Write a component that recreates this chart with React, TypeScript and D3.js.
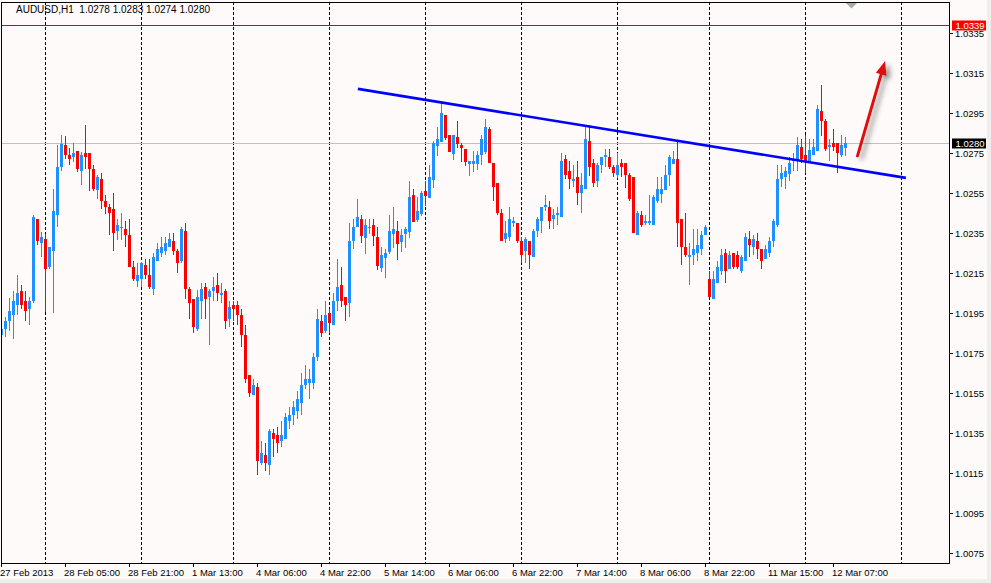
import React, { useEffect, useRef } from 'react';
import * as d3 from 'd3';

const symbol = 'AUDUSD';
const timeframe = 'H1';

const opens = [
  1.01844, 1.01875, 1.01915, 1.01944, 1.01995, 1.02059, 1.02009, 1.01975, 1.02014, 1.02419,
  1.02305, 1.02319, 1.02185, 1.02265, 1.02445, 1.02685, 1.02789, 1.02739, 1.02735, 1.02759,
  1.02665, 1.02749, 1.02749, 1.02669, 1.02569, 1.02619, 1.02509, 1.02479, 1.02469, 1.02365,
  1.02377, 1.02369, 1.02339, 1.02179, 1.02115, 1.02125, 1.02189, 1.02139, 1.02075, 1.02215,
  1.02255, 1.02265, 1.02285, 1.02309, 1.02259, 1.02215, 1.02359, 1.02069, 1.02019, 1.01875,
  1.02015, 1.02079, 1.02035, 1.02065, 1.02089, 1.02045, 1.02059, 1.01925, 1.01989, 1.01989,
  1.01939, 1.01839, 1.01639, 1.01545, 1.01579, 1.01205, 1.01239, 1.01195, 1.01349, 1.01339,
  1.01315, 1.01325, 1.01415, 1.01445, 1.01465, 1.01505, 1.01595, 1.01605, 1.01605, 1.01735,
  1.01909, 1.01865, 1.01949, 1.01895, 1.02015, 1.02089, 1.02029, 1.02005, 1.02315, 1.02385,
  1.02417, 1.02327, 1.02377, 1.02387, 1.02327, 1.02177, 1.02227, 1.02257, 1.02347, 1.02357,
  1.02307, 1.02347, 1.02357, 1.02537, 1.02417, 1.02447, 1.02557, 1.02527, 1.02617, 1.02787,
  1.02807, 1.02937, 1.02837, 1.02747, 1.02827, 1.02787, 1.02767, 1.02697, 1.02697, 1.02697,
  1.02745, 1.02759, 1.02869, 1.02699, 1.02599, 1.02449, 1.02325, 1.02335, 1.02405, 1.02399,
  1.02309, 1.02265, 1.02309, 1.02235, 1.02365, 1.02415, 1.02485, 1.02479, 1.02425, 1.02445,
  1.02435, 1.02719, 1.02659, 1.02615, 1.02629, 1.02555, 1.02575, 1.02809, 1.02699, 1.02615,
  1.02695, 1.02735, 1.02729, 1.02679, 1.02645, 1.02699, 1.02699, 1.02639, 1.02629, 1.02345,
  1.02439, 1.02405, 1.02405, 1.02395, 1.02515, 1.02549, 1.02569, 1.02645, 1.02699, 1.02719,
  1.02419, 1.02279, 1.02235, 1.02245, 1.02255, 1.02275, 1.02345, 1.02119, 1.02025, 1.02102,
  1.02165, 1.02249, 1.02175, 1.02249, 1.02239, 1.02165, 1.02215, 1.02319, 1.02285, 1.02309,
  1.02269, 1.02225, 1.02255, 1.02315, 1.02395, 1.02625, 1.02635, 1.02649, 1.02715, 1.02715,
  1.02779, 1.02739, 1.02715, 1.02745, 1.02765, 1.02959, 1.02909, 1.02785, 1.02799, 1.02799,
  1.02745, 1.0278,
];

const highs = [
  1.01967, 1.0193, 1.02022, 1.02059, 1.02139, 1.02087, 1.02059, 1.0203, 1.02439, 1.02419,
  1.02355, 1.02342, 1.02279, 1.02569, 1.02789, 1.02839, 1.02835, 1.02772, 1.02799, 1.02759,
  1.02755, 1.02889, 1.02749, 1.02689, 1.02639, 1.02649, 1.02539, 1.02495, 1.02549, 1.02419,
  1.0245, 1.02409, 1.02419, 1.02209, 1.02199, 1.02205, 1.02219, 1.02219, 1.02249, 1.02299,
  1.02329, 1.02329, 1.02349, 1.02349, 1.02269, 1.02379, 1.02399, 1.02079, 1.02019, 1.02062,
  1.02099, 1.02099, 1.02069, 1.02129, 1.02149, 1.02099, 1.02069, 1.02009, 1.02009, 1.02009,
  1.01969, 1.01889, 1.01639, 1.01619, 1.01599, 1.01309, 1.01299, 1.01369, 1.01369, 1.01379,
  1.01409, 1.01449, 1.01479, 1.01509, 1.01559, 1.01649, 1.01689, 1.01669, 1.01749, 1.01969,
  1.01939, 1.02009, 1.01969, 1.02049, 1.02219, 1.02179, 1.02029, 1.02399, 1.02419, 1.02519,
  1.02437, 1.02417, 1.02417, 1.02417, 1.02377, 1.02277, 1.02267, 1.02437, 1.02477, 1.02407,
  1.02367, 1.02377, 1.02607, 1.02567, 1.02527, 1.02557, 1.02607, 1.02687, 1.02807, 1.02877,
  1.02997, 1.02937, 1.02837, 1.02837, 1.02907, 1.02797, 1.02767, 1.02707, 1.02757, 1.02757,
  1.02839, 1.02919, 1.02879, 1.02699, 1.02599, 1.02469, 1.02409, 1.02479, 1.02429, 1.02399,
  1.02329, 1.02329, 1.02309, 1.02369, 1.02429, 1.02479, 1.02539, 1.02509, 1.02469, 1.02479,
  1.02749, 1.02739, 1.02709, 1.02689, 1.02709, 1.02649, 1.02889, 1.02889, 1.02719, 1.02699,
  1.02729, 1.02769, 1.02769, 1.02689, 1.02749, 1.02719, 1.02699, 1.02649, 1.02629, 1.02459,
  1.02459, 1.02439, 1.02539, 1.02539, 1.02629, 1.02629, 1.02689, 1.02739, 1.02759, 1.02809,
  1.02419, 1.02449, 1.02299, 1.02369, 1.02369, 1.02359, 1.02389, 1.02159, 1.02159, 1.02209,
  1.02269, 1.02269, 1.02259, 1.02249, 1.02259, 1.02239, 1.02349, 1.02359, 1.02339, 1.02349,
  1.02269, 1.02289, 1.02329, 1.02419, 1.02689, 1.02689, 1.02679, 1.02729, 1.02749, 1.02829,
  1.02819, 1.02839, 1.02819, 1.02819, 1.02989, 1.03089, 1.02919, 1.02819, 1.02869, 1.02799,
  1.02839, 1.0283,
];

const lows = [
  1.01817, 1.01835, 1.01864, 1.01825, 1.01942, 1.01972, 1.01915, 1.01895, 1.02005, 1.02295,
  1.02235, 1.01959, 1.02172, 1.01955, 1.02385, 1.02665, 1.02722, 1.02695, 1.02709, 1.02659,
  1.02595, 1.02675, 1.02565, 1.02562, 1.02525, 1.02475, 1.02449, 1.02345, 1.02265, 1.02319,
  1.02317, 1.02284, 1.02185, 1.02115, 1.02085, 1.02082, 1.02122, 1.02075, 1.02045, 1.02215,
  1.02235, 1.02245, 1.02285, 1.02245, 1.02155, 1.02205, 1.02025, 1.01925, 1.01855, 1.01865,
  1.01925, 1.01925, 1.01795, 1.02015, 1.02015, 1.02005, 1.01875, 1.01885, 1.01915, 1.01895,
  1.01785, 1.01605, 1.01535, 1.01545, 1.01145, 1.01195, 1.01165, 1.01142, 1.01235, 1.01255,
  1.01285, 1.01325, 1.01375, 1.01395, 1.01425, 1.01445, 1.01575, 1.01525, 1.01575, 1.01715,
  1.01835, 1.01855, 1.01855, 1.01895, 1.01965, 1.01985, 1.01915, 1.01935, 1.02275, 1.02385,
  1.02304, 1.02247, 1.02347, 1.02287, 1.02167, 1.02157, 1.02127, 1.02247, 1.02277, 1.02217,
  1.02257, 1.02277, 1.02327, 1.02407, 1.02407, 1.02437, 1.02487, 1.02527, 1.02577, 1.02737,
  1.02807, 1.02817, 1.02757, 1.02717, 1.02777, 1.02707, 1.02687, 1.02637, 1.02657, 1.02667,
  1.02695, 1.02749, 1.02705, 1.02515, 1.02445, 1.02315, 1.02305, 1.02315, 1.02385, 1.02305,
  1.02205, 1.02205, 1.02175, 1.02235, 1.02335, 1.02355, 1.02465, 1.02375, 1.02375, 1.02395,
  1.02435, 1.02625, 1.02575, 1.02585, 1.02495, 1.02455, 1.02575, 1.02639, 1.02585, 1.02585,
  1.02655, 1.02685, 1.02675, 1.02635, 1.02629, 1.02635, 1.02579, 1.02515, 1.02355, 1.02345,
  1.02385, 1.02395, 1.02395, 1.02395, 1.02505, 1.02505, 1.02569, 1.02589, 1.02699, 1.02282,
  1.02195, 1.02235, 1.02095, 1.02195, 1.02215, 1.02245, 1.02345, 1.02035, 1.02025, 1.02102,
  1.02145, 1.02105, 1.02175, 1.02175, 1.02175, 1.02155, 1.02215, 1.02235, 1.02245, 1.02225,
  1.02175, 1.02225, 1.02235, 1.02285, 1.02385, 1.02585, 1.02575, 1.02615, 1.02665, 1.02665,
  1.02705, 1.02655, 1.02705, 1.02745, 1.02765, 1.02839, 1.02765, 1.02715, 1.02765, 1.02655,
  1.02735, 1.0274,
];

const closes = [
  1.01867, 1.01909, 1.01959, 1.02009, 1.02047, 1.01995, 1.01965, 1.02009, 1.02429, 1.02315,
  1.02329, 1.02175, 1.02279, 1.02459, 1.02679, 1.02795, 1.02745, 1.02725, 1.02749, 1.02675,
  1.02739, 1.02735, 1.02675, 1.02575, 1.02629, 1.02515, 1.02485, 1.02455, 1.02355, 1.02389,
  1.0238, 1.02344, 1.02185, 1.02125, 1.02139, 1.02199, 1.02145, 1.02085, 1.02229, 1.02269,
  1.02279, 1.02299, 1.02319, 1.02265, 1.02205, 1.02369, 1.02075, 1.02005, 1.01885, 1.02029,
  1.02069, 1.02025, 1.02059, 1.02079, 1.02055, 1.02049, 1.01915, 1.01979, 1.01975, 1.01945,
  1.01845, 1.01625, 1.01555, 1.01589, 1.01215, 1.01249, 1.01205, 1.01359, 1.01325, 1.01305,
  1.01339, 1.01429, 1.01439, 1.01479, 1.01519, 1.01589, 1.01619, 1.01619, 1.01729, 1.01919,
  1.01855, 1.01939, 1.01905, 1.02009, 1.02079, 1.02015, 1.01995, 1.02309, 1.02379, 1.02429,
  1.02337, 1.02387, 1.0238, 1.02337, 1.02187, 1.02237, 1.02247, 1.02357, 1.02367, 1.02297,
  1.02337, 1.02367, 1.02527, 1.02407, 1.02457, 1.02547, 1.02537, 1.02627, 1.02797, 1.02817,
  1.02947, 1.02827, 1.02757, 1.02837, 1.02797, 1.02777, 1.02707, 1.02707, 1.02707, 1.02737,
  1.02819, 1.02879, 1.02705, 1.02585, 1.02455, 1.02315, 1.02349, 1.02419, 1.02409, 1.02315,
  1.02245, 1.02319, 1.02245, 1.02359, 1.02419, 1.02479, 1.02489, 1.02415, 1.02439, 1.02449,
  1.02709, 1.02645, 1.02625, 1.02619, 1.02555, 1.02589, 1.02819, 1.02685, 1.02605, 1.02689,
  1.02729, 1.02739, 1.02685, 1.02655, 1.02689, 1.02685, 1.02645, 1.02525, 1.02355, 1.02449,
  1.02395, 1.02409, 1.02409, 1.02529, 1.02569, 1.02569, 1.02639, 1.02729, 1.02719, 1.02405,
  1.02285, 1.02245, 1.02239, 1.02269, 1.02289, 1.02339, 1.02379, 1.02035, 1.02119, 1.02179,
  1.02239, 1.02165, 1.02239, 1.02185, 1.02185, 1.02229, 1.02329, 1.02295, 1.02319, 1.02275,
  1.02215, 1.02269, 1.02309, 1.02409, 1.02619, 1.02649, 1.02659, 1.02699, 1.02719, 1.02789,
  1.02725, 1.02715, 1.02765, 1.02779, 1.02969, 1.02915, 1.02775, 1.02789, 1.02785, 1.02755,
  1.02789, 1.028,
];

// one label every 16 bars, starting at bar 0
const timeLabels = [
  '27 Feb 2013', '28 Feb 05:00', '28 Feb 21:00', '1 Mar 13:00', '4 Mar 06:00', '4 Mar 22:00',
  '5 Mar 14:00', '6 Mar 06:00', '6 Mar 22:00', '7 Mar 14:00', '8 Mar 06:00', '8 Mar 22:00',
  '11 Mar 15:00', '12 Mar 07:00',
];
const labelStep = 16;

// bar index of each day start (00:00)
const dayStarts = [11, 35, 58, 82, 106, 130, 154, 177, 201, 225];

const priceTicks = [
  1.0335, 1.0315, 1.0295, 1.0275, 1.0255, 1.0235, 1.0215, 1.0195, 1.0175, 1.0155, 1.0135,
  1.0115, 1.0095, 1.0075,
];

const alertPrice = 1.0339;
const bidPrice = 1.028;

const trendLine = [
  { bar: 89.1, price: 1.03069 },
  { bar: 226.1, price: 1.02624 },
];

const arrowLine = [
  { bar: 214, price: 1.02734 },
  { bar: 220.9, price: 1.03209 },
];

const W = 991;
const H = 583;
const plot = { left: 1, top: 2, right: 949, bottom: 563 };
const font = "'Liberation Sans', Arial, sans-serif";

const App: React.FC = () => {
  const ref = useRef<SVGSVGElement>(null);

  useEffect(() => {
    if (!ref.current) return;
    const svg = d3.select(ref.current);
    svg.selectAll('*').remove();

    const x = d3.scaleLinear().domain([0, 1]).range([1.5, 5.5]);
    const y = d3.scaleLinear().domain([1.0335, 1.0075]).range([32.7, 552.7]);

    const defs = svg.append('defs');
    defs
      .append('clipPath')
      .attr('id', 'plotClip')
      .append('rect')
      .attr('x', plot.left)
      .attr('y', plot.top)
      .attr('width', plot.right - plot.left)
      .attr('height', plot.bottom - plot.top);

    const shadow = defs.append('filter').attr('id', 'arrowShadow').attr('x', '-50%').attr('y', '-50%').attr('width', '200%').attr('height', '200%');
    shadow
      .append('feDropShadow')
      .attr('dx', 4)
      .attr('dy', 3)
      .attr('stdDeviation', 2.5)
      .attr('flood-color', '#707070')
      .attr('flood-opacity', 0.75);

    svg.append('rect').attr('width', W).attr('height', H).attr('fill', '#FFFAFA');
    svg.append('rect').attr('x', 0).attr('y', 579).attr('width', W).attr('height', 4).attr('fill', '#F0EEEA');
    svg.append('rect').attr('x', 987).attr('y', 0).attr('width', 4).attr('height', H).attr('fill', '#F0EEEA');

    const g = svg.append('g').attr('clip-path', 'url(#plotClip)');

    // day separators
    g.selectAll('.sep')
      .data(dayStarts)
      .enter()
      .append('line')
      .attr('x1', (d) => x(d))
      .attr('x2', (d) => x(d))
      .attr('y1', plot.top)
      .attr('y2', plot.bottom)
      .attr('stroke', '#000')
      .attr('stroke-dasharray', '3,2')
      .attr('shape-rendering', 'crispEdges');

    // alert + bid lines
    g.append('line')
      .attr('x1', plot.left)
      .attr('x2', plot.right)
      .attr('y1', Math.round(y(alertPrice)) + 0.5)
      .attr('y2', Math.round(y(alertPrice)) + 0.5)
      .attr('stroke', '#E00000')
      .attr('shape-rendering', 'crispEdges');
    g.append('line')
      .attr('x1', plot.left)
      .attr('x2', plot.right)
      .attr('y1', Math.round(y(bidPrice)) + 0.5)
      .attr('y2', Math.round(y(bidPrice)) + 0.5)
      .attr('stroke', '#C0C0C0')
      .attr('shape-rendering', 'crispEdges');

    const bars = d3.range(opens.length);
    const colorOf = (i: number) => (closes[i] >= opens[i] ? '#1E90FF' : '#FF0000');

    g.selectAll('.wick')
      .data(bars)
      .enter()
      .append('line')
      .attr('x1', (i) => x(i))
      .attr('x2', (i) => x(i))
      .attr('y1', (i) => Math.round(y(highs[i])))
      .attr('y2', (i) => Math.round(y(lows[i])) + 1)
      .attr('stroke', colorOf)
      .attr('shape-rendering', 'crispEdges');

    g.selectAll('.body')
      .data(bars)
      .enter()
      .append('rect')
      .attr('x', (i) => x(i) - 1.5)
      .attr('width', 3)
      .attr('y', (i) => Math.round(y(Math.max(opens[i], closes[i]))))
      .attr('height', (i) =>
        Math.max(1, Math.round(y(Math.min(opens[i], closes[i]))) - Math.round(y(Math.max(opens[i], closes[i]))) + 1)
      )
      .attr('fill', colorOf)
      .attr('shape-rendering', 'crispEdges');

    // trend line
    const line = d3
      .line<{ bar: number; price: number }>()
      .x((d) => x(d.bar))
      .y((d) => y(d.price));
    g.append('path')
      .attr('d', line(trendLine))
      .attr('fill', 'none')
      .attr('stroke', '#0000FF')
      .attr('stroke-width', 2.6);

    // red arrow
    const [a0, a1] = arrowLine;
    const tx = x(a0.bar);
    const ty = y(a0.price);
    const hx = x(a1.bar);
    const hy = y(a1.price);
    const len = Math.hypot(hx - tx, hy - ty);
    const ux = (hx - tx) / len;
    const uy = (hy - ty) / len;
    const headLen = 14;
    const headHalf = 5.5;
    const bx = hx - ux * headLen;
    const by = hy - uy * headLen;
    const arrow = g.append('g').attr('filter', 'url(#arrowShadow)');
    arrow
      .append('line')
      .attr('x1', tx)
      .attr('y1', ty)
      .attr('x2', bx + ux * 2)
      .attr('y2', by + uy * 2)
      .attr('stroke', '#E00A0A')
      .attr('stroke-width', 3)
      .attr('stroke-linecap', 'round');
    arrow
      .append('path')
      .attr(
        'd',
        `M${hx},${hy}L${bx - uy * headHalf},${by + ux * headHalf}L${bx + uy * headHalf},${by - ux * headHalf}Z`
      )
      .attr('fill', '#E00A0A');

    // chart shift marker
    svg
      .append('path')
      .attr('d', 'M846,3L857,3L851.5,8.5Z')
      .attr('fill', '#A8A8A8');

    // frame
    svg
      .append('rect')
      .attr('x', plot.left + 0.5)
      .attr('y', plot.top + 0.5)
      .attr('width', plot.right - plot.left)
      .attr('height', plot.bottom - plot.top)
      .attr('fill', 'none')
      .attr('stroke', '#000')
      .attr('shape-rendering', 'crispEdges');

    // price axis
    const pa = svg.append('g');
    priceTicks.forEach((p) => {
      const yy = Math.round(y(p)) + 0.5;
      pa.append('line')
        .attr('x1', plot.right + 0.5)
        .attr('x2', plot.right + 4)
        .attr('y1', yy)
        .attr('y2', yy)
        .attr('stroke', '#000')
        .attr('shape-rendering', 'crispEdges');
      pa.append('text')
        .attr('x', 955)
        .attr('y', yy + 3.5)
        .attr('font-family', font)
        .attr('font-size', 9.5)
        .attr('fill', '#000')
        .text(p.toFixed(4));
    });

    const priceBox = (p: number, bg: string) => {
      const yy = Math.round(y(p));
      pa.append('rect')
        .attr('x', 952)
        .attr('y', yy - 4.5)
        .attr('width', 34)
        .attr('height', 10)
        .attr('fill', bg);
      pa.append('text')
        .attr('x', 955.5)
        .attr('y', yy + 4)
        .attr('font-family', font)
        .attr('font-size', 9.5)
        .attr('fill', '#FFF')
        .text(p.toFixed(4));
    };
    priceBox(alertPrice, '#FF0000');
    priceBox(bidPrice, '#000000');

    // time axis
    const ta = svg.append('g');
    timeLabels.forEach((label, k) => {
      const xx = Math.round(x(k * labelStep) - 0.5) + 0.5;
      ta.append('line')
        .attr('x1', xx)
        .attr('x2', xx)
        .attr('y1', plot.bottom)
        .attr('y2', plot.bottom + 4)
        .attr('stroke', '#000')
        .attr('shape-rendering', 'crispEdges');
      ta.append('text')
        .attr('x', xx - 1.5)
        .attr('y', 576)
        .attr('font-family', font)
        .attr('font-size', 9.5)
        .attr('fill', '#000')
        .text(label);
    });

    // title
    const last = opens.length - 1;
    svg
      .append('text')
      .attr('x', 16)
      .attr('y', 13)
      .attr('font-family', font)
      .attr('font-size', 10)
      .attr('fill', '#000')
      .style('white-space', 'pre')
      .text(
        `${symbol},${timeframe}  ${opens[last].toFixed(4)} ${highs[last].toFixed(4)} ${lows[last].toFixed(4)} ${closes[last].toFixed(4)}`
      );
  }, []);

  return (
    <>
      <style>{'body{margin:0;}'}</style>
      <svg ref={ref} width={W} height={H} style={{ display: 'block' }}></svg>
    </>
  );
};

export default App;
